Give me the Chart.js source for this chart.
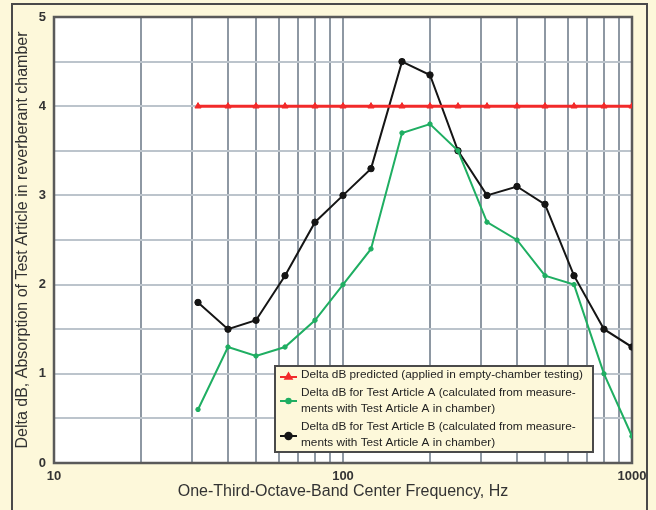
<!DOCTYPE html>
<html><head><meta charset="utf-8">
<script src="https://cdn.jsdelivr.net/npm/chart.js@4"></script>
<style>html,body{margin:0;padding:0;background:#fdf8da;} #wrap{width:656px;height:510px;position:relative;}</style>
</head><body><div id="wrap"><canvas id="c" width="656" height="510"></canvas></div>
<script>
const frequencies = [31.5, 40, 50, 63, 80, 100, 125, 160, 200, 250, 315, 400, 500, 630, 800, 1000];
const predicted = [4, 4, 4, 4, 4, 4, 4, 4, 4, 4, 4, 4, 4, 4, 4, 4];
const articleA = [0.6, 1.3, 1.2, 1.3, 1.6, 2.0, 2.4, 3.7, 3.8, 3.5, 2.7, 2.5, 2.1, 2.0, 1.0, 0.3];
const articleB = [1.8, 1.5, 1.6, 2.1, 2.7, 3.0, 3.3, 4.5, 4.35, 3.5, 3.0, 3.1, 2.9, 2.1, 1.5, 1.3];
const xGridValues = [10, 20, 30, 40, 50, 60, 70, 80, 90, 100, 200, 300, 400, 500, 600, 700, 800, 900, 1000];
const xLabelValues = [10, 100, 1000];
const yLabelValues = [0, 1, 2, 3, 4, 5];
const legendPredicted = ["Delta dB predicted (applied in empty-chamber testing)"];
const legendA = ["Delta dB for Test Article A (calculated from measure-", "ments with Test Article A in chamber)"];
const legendB = ["Delta dB for Test Article B (calculated from measure-", "ments with Test Article A in chamber)"];
const xTitle = "One-Third-Octave-Band Center Frequency, Hz";
const yTitle = "Delta dB, Absorption of Test Article in reverberant chamber";

const FONT = "'Liberation Sans', Arial, sans-serif";
const CREAM = '#fdf8da';

const pts = arr => frequencies.map((f, i) => ({x: f, y: arr[i]}));

const bgPlugin = {
  id: 'bg',
  beforeDraw(chart) {
    const {ctx, chartArea: a} = chart;
    ctx.save();
    ctx.fillStyle = CREAM;
    ctx.fillRect(0, 0, chart.width, chart.height);
    ctx.fillStyle = '#ffffff';
    ctx.fillRect(a.left, a.top, a.right - a.left, a.bottom - a.top);
    ctx.strokeStyle = '#4a4a4a';
    ctx.lineWidth = 2;
    ctx.strokeRect(12, 4, 635, 530);
    ctx.restore();
  },
  beforeDatasetsDraw(chart) {
    const {ctx, chartArea: a} = chart;
    ctx.save();
    ctx.strokeStyle = '#5a5a5a';
    ctx.lineWidth = 2.5;
    ctx.strokeRect(a.left, a.top, a.right - a.left, a.bottom - a.top);
    ctx.restore();
  }
};

const legendPlugin = {
  id: 'boxLegend',
  afterDraw(chart) {
    const {ctx} = chart;
    const box = {x: 275, y: 366, w: 318, h: 86};
    ctx.save();
    ctx.fillStyle = CREAM;
    ctx.fillRect(box.x, box.y, box.w, box.h);
    ctx.strokeStyle = '#4a4a4a';
    ctx.lineWidth = 2;
    ctx.strokeRect(box.x, box.y, box.w, box.h);
    const entries = [
      {ds: chart.data.datasets[0], lines: legendPredicted, ys: [375], sy: 377},
      {ds: chart.data.datasets[1], lines: legendA, ys: [393, 409], sy: 401},
      {ds: chart.data.datasets[2], lines: legendB, ys: [427, 443], sy: 436}
    ];
    ctx.font = '11.8px ' + FONT;
    ctx.textBaseline = 'middle';
    ctx.textAlign = 'left';
    entries.forEach(e => {
      ctx.strokeStyle = e.ds.borderColor;
      ctx.fillStyle = e.ds.borderColor;
      ctx.lineWidth = 2;
      ctx.beginPath();
      ctx.moveTo(280, e.sy);
      ctx.lineTo(297, e.sy);
      ctx.stroke();
      Chart.helpers.drawPoint(ctx, {pointStyle: e.ds.pointStyle, radius: e.ds.pointRadius, borderWidth: 1}, 288.5, e.sy);
      ctx.fillStyle = '#222';
      e.lines.forEach((t, i) => ctx.fillText(t, 301, e.ys[i]));
    });
    ctx.restore();
  }
};

new Chart(document.getElementById('c'), {
  type: 'line',
  data: {
    datasets: [
      {label: legendPredicted.join(' '), data: pts(predicted), borderColor: '#f22a2a', backgroundColor: '#f22a2a',
       borderWidth: 3, pointStyle: 'triangle', pointRadius: 3.6, pointBorderWidth: 1, tension: 0},
      {label: legendA.join(' '), data: pts(articleA), borderColor: '#1fae62', backgroundColor: '#1fae62',
       borderWidth: 2, pointStyle: 'circle', pointRadius: 2.2, pointBorderWidth: 1, tension: 0},
      {label: legendB.join(' '), data: pts(articleB), borderColor: '#151515', backgroundColor: '#151515',
       borderWidth: 2, pointStyle: 'circle', pointRadius: 3.2, pointBorderWidth: 1, tension: 0}
    ]
  },
  options: {
    responsive: false,
    animation: false,
    devicePixelRatio: 1,
    layout: {padding: {left: 12, top: 17, right: 24, bottom: 0}},
    plugins: {legend: {display: false}, tooltip: {enabled: false}},
    scales: {
      x: {
        type: 'logarithmic', min: 10, max: 1000,
        afterBuildTicks(scale) { scale.ticks = xGridValues.map(v => ({value: v})); },
        afterFit(scale) { scale.height = 47; },
        ticks: {autoSkip: false, maxRotation: 0, padding: 6, color: '#333',
          font: {family: FONT, size: 13, weight: 'bold'},
          callback: v => xLabelValues.includes(v) ? String(v) : ''},
        grid: {color: '#8e98a3', lineWidth: 2, drawTicks: false},
        border: {display: false},
        title: {display: true, text: xTitle, color: '#333', padding: {top: 0, bottom: 9},
          font: {family: FONT, size: 16}}
      },
      y: {
        type: 'linear', min: 0, max: 5,
        afterFit(scale) { scale.width = 42; },
        ticks: {stepSize: 0.5, padding: 8, color: '#333',
          font: {family: FONT, size: 13, weight: 'bold'},
          callback: v => yLabelValues.includes(v) ? String(v) : ''},
        grid: {color: '#bcc4cc', lineWidth: 2, drawTicks: false},
        border: {display: false},
        title: {display: true, text: yTitle, color: '#333', padding: {top: 1, bottom: 0},
          font: {family: FONT, size: 16}}
      }
    }
  },
  plugins: [bgPlugin, legendPlugin]
});
</script></body></html>
